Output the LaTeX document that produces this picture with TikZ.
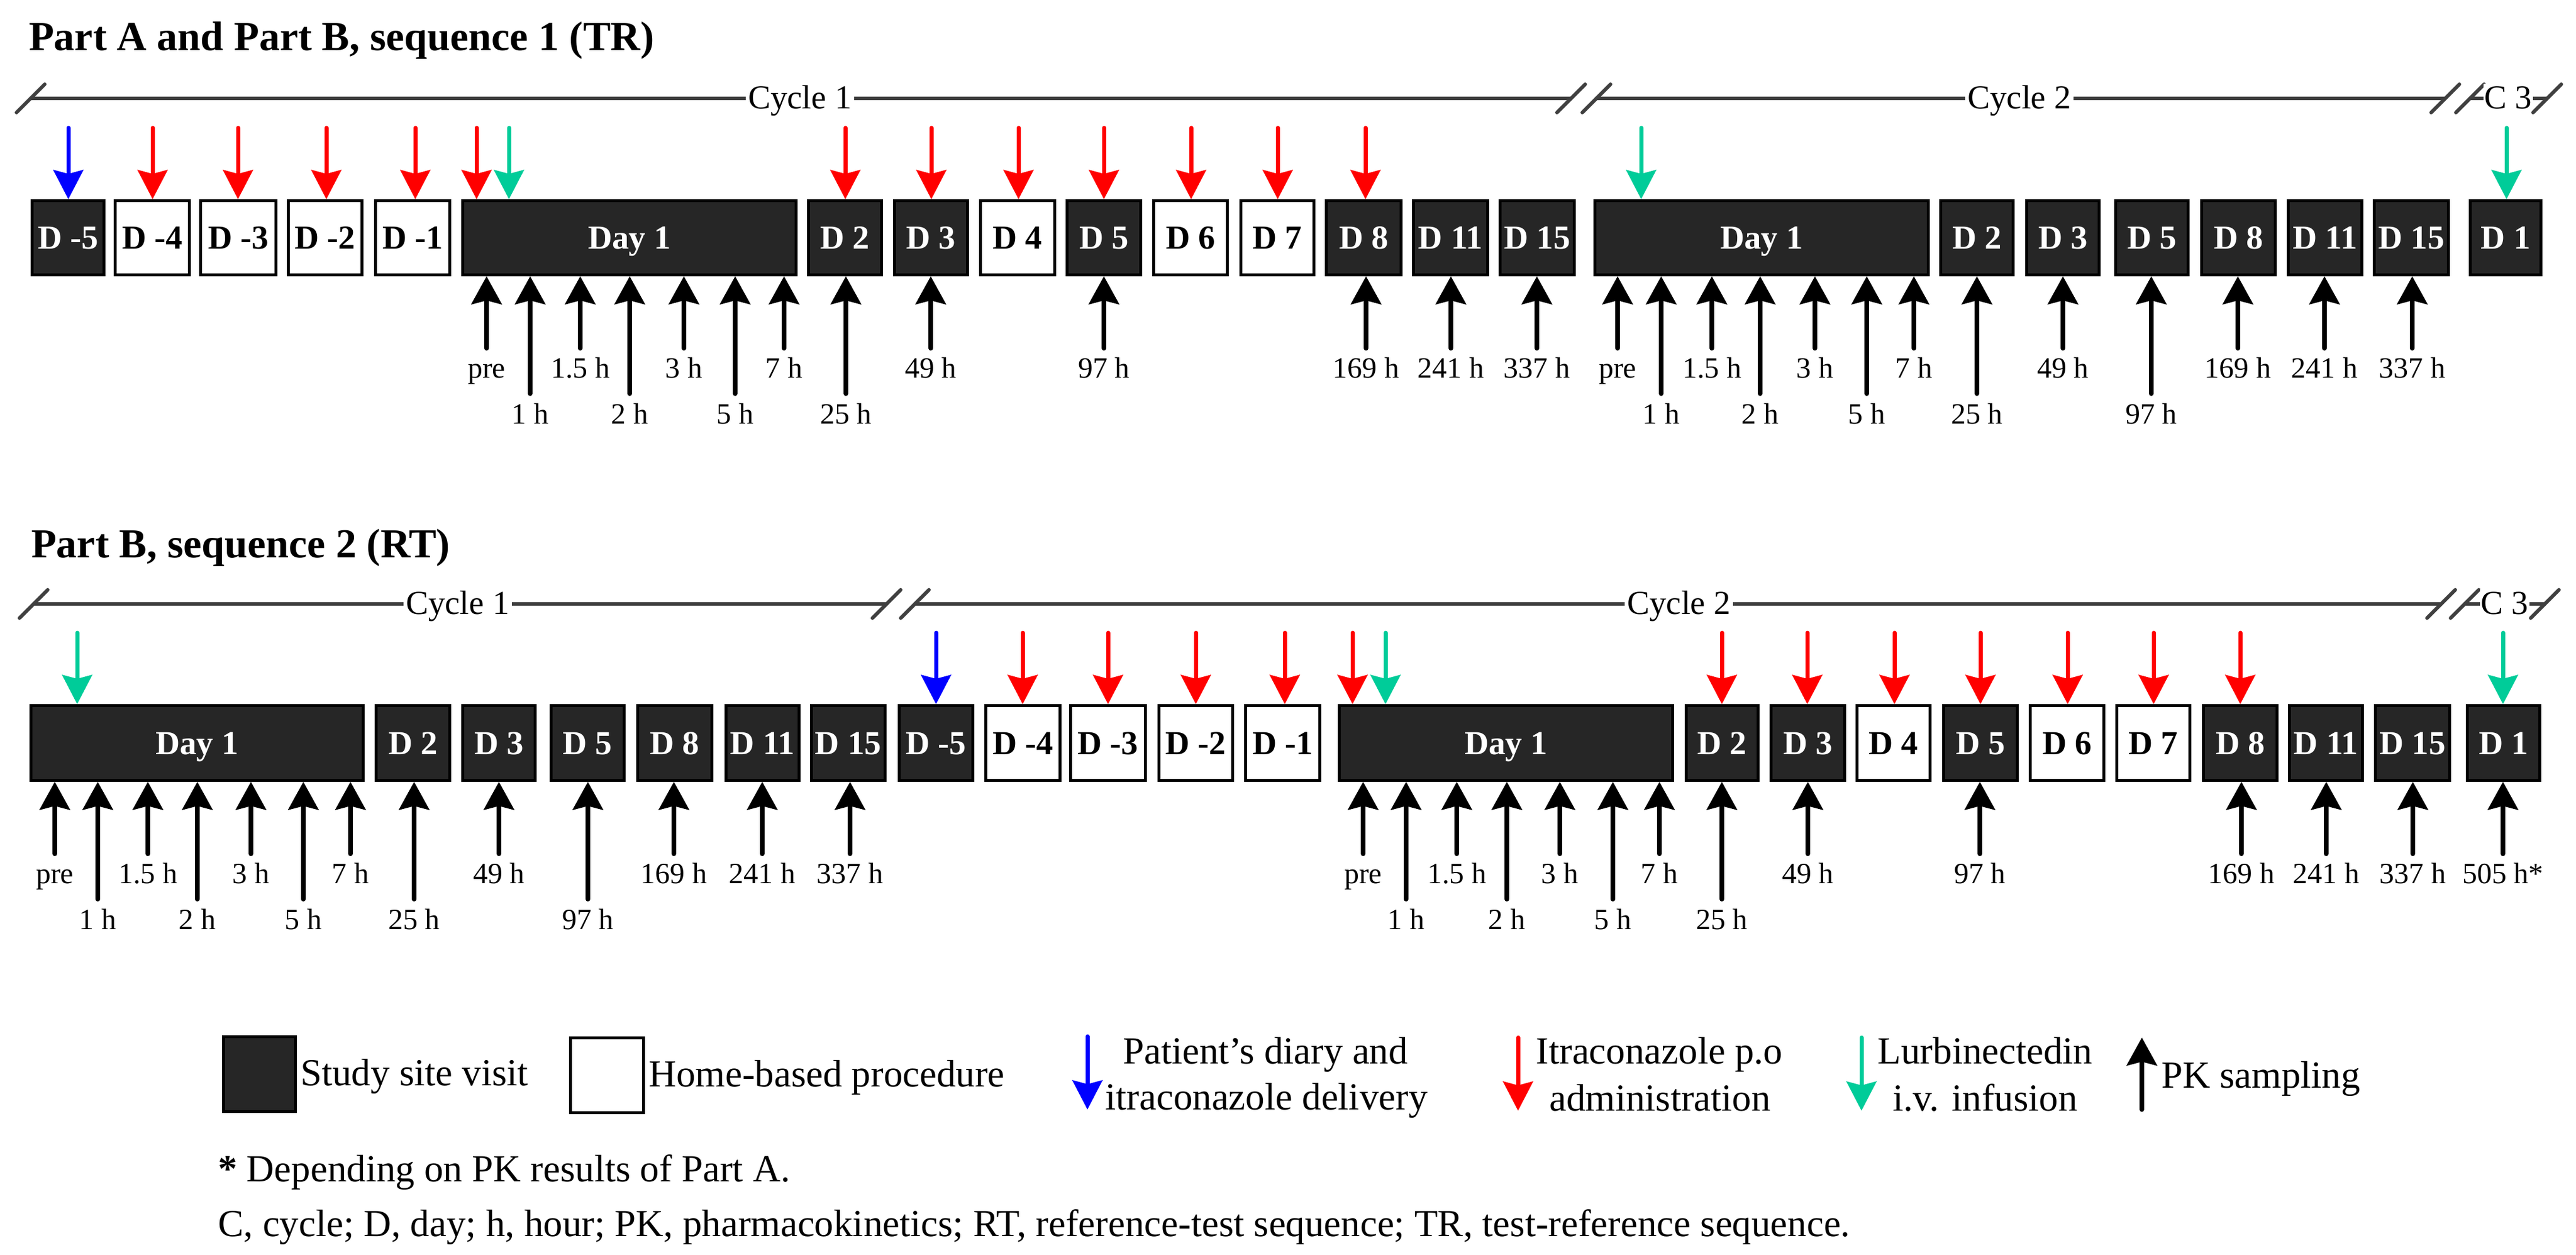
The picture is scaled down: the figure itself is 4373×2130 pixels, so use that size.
\documentclass[tikz,border=0pt]{standalone}
\usepackage{fontspec}
\setmainfont{Liberation Serif}
\usetikzlibrary{arrows.meta}
\definecolor{dk}{HTML}{262626}
\definecolor{lgr}{HTML}{404040}
\definecolor{ared}{HTML}{FF0000}
\definecolor{ablue}{HTML}{0000FF}
\definecolor{agreen}{RGB}{0,204,153}
\tikzset{
  dayd/.style={draw=black, line width=5pt, fill=dk, text=white, inner sep=0pt,
    text height=38pt, text depth=0pt, font=\fontsize{57}{60}\selectfont\bfseries},
  dayw/.style={dayd, fill=white, text=black},
  downarr/.style={line width=7pt, line cap=round,
    -{Stealth[length=50pt,width=52pt,inset=7pt,line width=0pt]}},
  pkarr/.style={line width=8pt, line cap=round, color=black,
    -{Stealth[length=48pt,width=53pt,inset=7pt,line width=0pt]}},
  cyc/.style={color=lgr, line width=6pt, line cap=round},
  cyclab/.style={fill=white, inner xsep=4pt, inner ysep=2pt, text height=40pt,
    text depth=0pt, font=\fontsize{57}{60}\selectfont},
  tlab/.style={font=\fontsize{50}{55}\selectfont, inner sep=0pt, anchor=base},
  ttl/.style={font=\fontsize{70}{80}\selectfont\bfseries, inner sep=0pt, anchor=base west},
  legtext/.style={font=\fontsize{65}{80}\selectfont, inner sep=0pt, anchor=base},
}
\newcommand\bx[7]{\node[#1, minimum width={(#4-#3-5)*1pt}, minimum height={(#6-#5-5)*1pt}] (#2) at ({(#3+#4)/2},{(#5+#6)/2}) {#7};}
\newcommand\dn[4]{\draw[downarr, color=#1] (#2,#4) -- (#2,0 |- #3.north);}
\newcommand\slsh[1]{\draw[cyc] ([xshift=-24pt,yshift=-24pt]#1) -- ([xshift=24pt,yshift=24pt]#1);}
\begin{document}
\begin{tikzpicture}[x=1pt,y=-1pt]
\useasboundingbox (0,0) rectangle (4373,2130);

% ---------------- Row 1 ----------------
\node[ttl] (t1) at (49,86) {Part A and Part B, sequence 1 (TR)};

\coordinate (r1a) at (52,167);
\coordinate (r1b) at (2667,167);
\coordinate (r1c) at (2710,167);
\coordinate (r1d) at (4151,167);
\coordinate (r1e) at (4193,167);
\coordinate (r1f) at (4324,167);
\draw[cyc] (r1a) -- (r1b);
\draw[cyc] (r1c) -- (r1d);
\draw[cyc] (r1e) -- (r1f);
\foreach \c in {r1a,r1b,r1c,r1d,r1e,r1f} {\slsh{\c}}
\node[cyclab] (cy11) at (1358,164) {Cycle 1};
\node[cyclab] (cy12) at (3428,164) {Cycle 2};
\node[cyclab, inner xsep=2pt] (cy13) at (4258,164) {C 3};

\bx{dayd}{a1}{52}{179}{338}{469}{D -5}
\bx{dayw}{a2}{193}{324}{338}{469}{D -4}
\bx{dayw}{a3}{338}{471}{338}{469}{D -3}
\bx{dayw}{a4}{487}{617}{338}{469}{D -2}
\bx{dayw}{a5}{635}{766}{338}{469}{D -1}
\bx{dayd}{a6}{783}{1354}{338}{469}{Day 1}
\bx{dayd}{a7}{1370}{1499}{338}{469}{D 2}
\bx{dayd}{a8}{1516}{1645}{338}{469}{D 3}
\bx{dayw}{a9}{1662}{1793}{338}{469}{D 4}
\bx{dayd}{a10}{1809}{1939}{338}{469}{D 5}
\bx{dayw}{a11}{1956}{2086}{338}{469}{D 6}
\bx{dayw}{a12}{2104}{2233}{338}{469}{D 7}
\bx{dayd}{a13}{2249}{2381}{338}{469}{D 8}
\bx{dayd}{a14}{2397}{2528}{338}{469}{D 11}
\bx{dayd}{a15}{2544}{2675}{338}{469}{D 15}
\bx{dayd}{a16}{2705}{3276}{338}{469}{Day 1}
\bx{dayd}{a17}{3292}{3420}{338}{469}{D 2}
\bx{dayd}{a18}{3438}{3566}{338}{469}{D 3}
\bx{dayd}{a19}{3589}{3717}{338}{469}{D 5}
\bx{dayd}{a20}{3735}{3865}{338}{469}{D 8}
\bx{dayd}{a21}{3882}{4012}{338}{469}{D 11}
\bx{dayd}{a22}{4028}{4159}{338}{469}{D 15}
\bx{dayd}{a23}{4191}{4316}{338}{469}{D 1}

\dn{ablue}{116}{a1}{217}
\dn{ared}{259}{a2}{217}
\dn{ared}{404}{a3}{217}
\dn{ared}{554}{a4}{217}
\dn{ared}{705}{a5}{217}
\dn{ared}{809}{a6}{217}
\dn{agreen}{864}{a6}{217}
\dn{ared}{1435}{a7}{217}
\dn{ared}{1581}{a8}{217}
\dn{ared}{1729}{a9}{217}
\dn{ared}{1874}{a10}{217}
\dn{ared}{2022}{a11}{217}
\dn{ared}{2169}{a12}{217}
\dn{ared}{2318}{a13}{217}
\dn{agreen}{2786}{a16}{217}
\dn{agreen}{4255}{a23}{217}

\foreach \x/\b/\k/\l in {826/a6/0/pre, 900/a6/1/1 h, 985/a6/0/1.5 h, 1069/a6/1/2 h,
  1161/a6/0/3 h, 1248/a6/1/5 h, 1331/a6/0/7 h, 1436/a7/1/25 h, 1580/a8/0/49 h,
  1874/a10/0/97 h, 2319/a13/0/169 h, 2463/a14/0/241 h, 2609/a15/0/337 h,
  2746/a16/0/pre, 2820/a16/1/1 h, 2906/a16/0/1.5 h, 2988/a16/1/2 h, 3081/a16/0/3 h,
  3169/a16/1/5 h, 3249/a16/0/7 h, 3356/a17/1/25 h, 3502/a18/0/49 h, 3652/a19/1/97 h,
  3799/a20/0/169 h, 3946/a21/0/241 h, 4095/a22/0/337 h}
{
  \draw[pkarr] (\x,{469+122+77*\k}) -- (\x,0 |- \b.south);
  \node[tlab] (ta\x) at (\x,{469+172+78*\k}) {\l};
}

% ---------------- Row 2 ----------------
\node[ttl] (t2) at (53,946) {Part B, sequence 2 (RT)};

\coordinate (r2a) at (57,1025);
\coordinate (r2b) at (1505,1025);
\coordinate (r2c) at (1553,1025);
\coordinate (r2d) at (4144,1025);
\coordinate (r2e) at (4184,1025);
\coordinate (r2f) at (4320,1025);
\draw[cyc] (r2a) -- (r2b);
\draw[cyc] (r2c) -- (r2d);
\draw[cyc] (r2e) -- (r2f);
\foreach \c in {r2a,r2b,r2c,r2d,r2e,r2f} {\slsh{\c}}
\node[cyclab] (cy21) at (777,1022) {Cycle 1};
\node[cyclab] (cy22) at (2850,1022) {Cycle 2};
\node[cyclab, inner xsep=2pt] (cy23) at (4252,1022) {C 3};

\bx{dayd}{b1}{50}{619}{1195}{1327}{Day 1}
\bx{dayd}{b2}{636}{766}{1195}{1327}{D 2}
\bx{dayd}{b3}{783}{911}{1195}{1327}{D 3}
\bx{dayd}{b4}{933}{1062}{1195}{1327}{D 5}
\bx{dayd}{b5}{1080}{1211}{1195}{1327}{D 8}
\bx{dayd}{b6}{1230}{1359}{1195}{1327}{D 11}
\bx{dayd}{b7}{1375}{1505}{1195}{1327}{D 15}
\bx{dayd}{b8}{1524}{1654}{1195}{1327}{D -5}
\bx{dayw}{b9}{1671}{1802}{1195}{1327}{D -4}
\bx{dayw}{b10}{1815}{1947}{1195}{1327}{D -3}
\bx{dayw}{b11}{1965}{2095}{1195}{1327}{D -2}
\bx{dayw}{b12}{2112}{2243}{1195}{1327}{D -1}
\bx{dayd}{b13}{2271}{2842}{1195}{1327}{Day 1}
\bx{dayd}{b14}{2860}{2987}{1195}{1327}{D 2}
\bx{dayd}{b15}{3004}{3134}{1195}{1327}{D 3}
\bx{dayw}{b16}{3150}{3279}{1195}{1327}{D 4}
\bx{dayd}{b17}{3297}{3427}{1195}{1327}{D 5}
\bx{dayw}{b18}{3444}{3574}{1195}{1327}{D 6}
\bx{dayw}{b19}{3591}{3720}{1195}{1327}{D 7}
\bx{dayd}{b20}{3738}{3868}{1195}{1327}{D 8}
\bx{dayd}{b21}{3884}{4013}{1195}{1327}{D 11}
\bx{dayd}{b22}{4030}{4161}{1195}{1327}{D 15}
\bx{dayd}{b23}{4186}{4314}{1195}{1327}{D 1}

\dn{agreen}{131}{b1}{1074}
\dn{ablue}{1589}{b8}{1074}
\dn{ared}{1736}{b9}{1074}
\dn{ared}{1881}{b10}{1074}
\dn{ared}{2030}{b11}{1074}
\dn{ared}{2181}{b12}{1074}
\dn{ared}{2296}{b13}{1074}
\dn{agreen}{2352}{b13}{1074}
\dn{ared}{2923}{b14}{1074}
\dn{ared}{3068}{b15}{1074}
\dn{ared}{3216}{b16}{1074}
\dn{ared}{3362}{b17}{1074}
\dn{ared}{3510}{b18}{1074}
\dn{ared}{3656}{b19}{1074}
\dn{ared}{3803}{b20}{1074}
\dn{agreen}{4249}{b23}{1074}

\foreach \x/\b/\k/\l in {93/b1/0/pre, 166/b1/1/1 h, 251/b1/0/1.5 h, 335/b1/1/2 h,
  426/b1/0/3 h, 515/b1/1/5 h, 595/b1/0/7 h, 703/b2/1/25 h, 847/b3/0/49 h,
  998/b4/1/97 h, 1144/b5/0/169 h, 1294/b6/0/241 h, 1443/b7/0/337 h,
  2314/b13/0/pre, 2387/b13/1/1 h, 2473/b13/0/1.5 h, 2558/b13/1/2 h, 2648/b13/0/3 h,
  2738/b13/1/5 h, 2817/b13/0/7 h, 2923/b14/1/25 h, 3069/b15/0/49 h, 3361/b17/0/97 h,
  3805/b20/0/169 h, 3949/b21/0/241 h, 4096/b22/0/337 h, 4249/b23/0/505 h*}
{
  \draw[pkarr] (\x,{1327+122+77*\k}) -- (\x,0 |- \b.south);
  \node[tlab] (tb\x) at (\x,{1327+172+78*\k}) {\l};
}

% ---------------- Legend ----------------
\node[dayd, minimum width=122pt, minimum height=127pt] (lg1) at (440.5,1823) {};
\node[legtext, anchor=base west] (lt1) at (510,1842) {Study site visit};
\node[dayw, minimum width=124pt, minimum height=127pt] (lg2) at (1030.5,1825) {};
\node[legtext, anchor=base west] (lt2) at (1101,1844) {Home-based procedure};

\coordinate (lb1) at (1846,1759);
\coordinate (lb2) at (1846,1883);
\draw[downarr, color=ablue] (lb1) -- (lb2);
\node[legtext] (lt3a) at (2148,1805) {Patient’s diary and};
\node[legtext] (lt3b) at (2150,1883) {itraconazole delivery};

\coordinate (lr1) at (2577,1761);
\coordinate (lr2) at (2577,1885);
\draw[downarr, color=ared] (lr1) -- (lr2);
\node[legtext] (lt4a) at (2817,1805) {Itraconazole p.o};
\node[legtext] (lt4b) at (2818,1885) {administration};

\coordinate (lgr1) at (3160,1761);
\coordinate (lgr2) at (3160,1885);
\draw[downarr, color=agreen] (lgr1) -- (lgr2);
\node[legtext] (lt5a) at (3370,1805) {Lurbinectedin};
\node[legtext] (lt5b) at (3370,1885) {i.v. infusion};

\coordinate (lk1) at (3636,1883);
\coordinate (lk2) at (3636,1761);
\draw[pkarr] (lk1) -- (lk2);
\node[legtext, anchor=base west] (lt6) at (3669,1846) {PK sampling};

% ---------------- Footnotes ----------------
\node[legtext, anchor=base west] (f1) at (370,2005) {\textbf{*} Depending on PK results of Part A.};
\node[legtext, anchor=base west] (f2) at (370,2098) {C, cycle; D, day; h, hour; PK, pharmacokinetics; RT, reference-test sequence; TR, test-reference sequence.};
\end{tikzpicture}
\end{document}
